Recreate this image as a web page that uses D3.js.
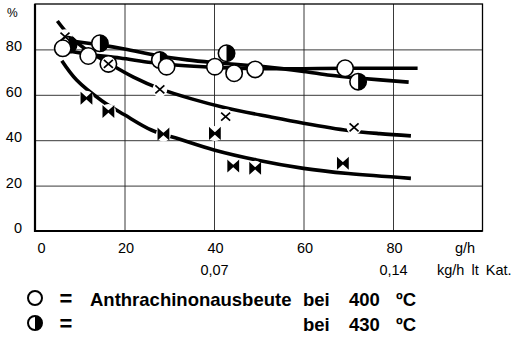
<!DOCTYPE html>
<html lang="de">
<head>
<meta charset="UTF-8">
<title>Anthrachinonausbeute</title>
<script src="https://cdn.jsdelivr.net/npm/d3@7"></script>
<style>
  body { margin: 0; background: #fff; }
  svg { display: block; font-family: "Liberation Sans", Arial, sans-serif; }
</style>
</head>
<body>
<svg></svg>
<script>
	// values (x = g/h, y = %)
	var xTicks = [0, 20, 40, 60, 80];
	var yTicks = [0, 20, 40, 60, 80];
	var kgTickPos = [40, 80];
	var kgTickLabels = ['0,07', '0,14'];

	// markers
	var open400 = [[6.2, 80.5], [11.9, 77.1], [16.4, 73.6], [29.4, 72.4], [40.2, 72.4], [44.5, 69.5], [49.2, 71.2], [69.3, 71.7]];
	var half430 = [[7.5, 82], [14.5, 82.7], [27.9, 75.3], [42.8, 78.3], [72.2, 65.8]];
	var crossPts = [[6.7, 85.6], [16.4, 73.6], [27.9, 62.4], [42.6, 50.4], [71.3, 45.7]];
	var bowPts = [[11.5, 58.5], [16.4, 52.6], [28.7, 42.7], [40.2, 43.0], [44.3, 28.6], [49.2, 27.6], [68.8, 29.8]];

	// drawn curves
	var curve400 = [[6, 79.8], [12, 77.8], [19, 76.2], [26, 74.2], [32, 73], [40, 72.1], [50, 71.5], [60, 71.5], [70, 71.7], [85.5, 71.7]];
	var curve430 = [[7, 84], [14.5, 82], [20, 80.2], [27.5, 77.2], [34, 75.4], [40, 74.2], [51, 72.4], [60, 70.3], [66, 68.6], [72, 67.4], [83.5, 65.6]];
	var curveCross = [[5, 92.5], [7.5, 86.5], [11, 80.5], [16.4, 74], [22, 67.8], [28, 62.6], [35, 58.2], [42.5, 54.3], [52.5, 50.3], [60, 47.5], [70, 44.3], [77, 42.9], [84, 41.9]];
	var curveBow = [[6, 75], [9.3, 66.5], [15, 57.3], [20, 51.2], [26, 44.5], [32.4, 40.4], [40, 35.7], [49.5, 31.3], [60, 27.6], [70, 25.3], [84, 23.2]];

	var width = 529, height = 359;
	var labelFont = '14.5px';

	var svg = d3.select('svg')
		.attr('width', width)
		.attr('height', height);

	var x = d3.scaleLinear().domain([0, 100]).range([35, 482.5]);
	var y = d3.scaleLinear().domain([0, 100]).range([231, 4]);

	// grid
	svg.append('g')
		.attr('transform', 'translate(0,' + y(0) + ')')
		.call(d3.axisBottom(x).tickValues([20, 40, 60, 80]).tickSize(-(y(0) - y(100))).tickFormat(''))
		.call(function (g) { g.select('.domain').remove(); })
		.selectAll('line').attr('stroke', '#222').attr('stroke-width', 0.9);

	svg.append('g')
		.attr('transform', 'translate(' + x(0) + ',0)')
		.call(d3.axisLeft(y).tickValues([20, 40, 60, 80]).tickSize(-(x(100) - x(0))).tickFormat(''))
		.call(function (g) { g.select('.domain').remove(); })
		.selectAll('line').attr('stroke', '#222').attr('stroke-width', 0.9);

	// frame
	svg.append('rect')
		.attr('x', x(0)).attr('y', y(100))
		.attr('width', x(100) - x(0)).attr('height', y(0) - y(100))
		.attr('fill', 'none').attr('stroke', '#000').attr('stroke-width', 1.3);
	svg.append('path')
		.attr('d', 'M' + x(0) + ',' + y(100) + 'V' + y(0) + 'H' + x(100))
		.attr('fill', 'none').attr('stroke', '#000').attr('stroke-width', 2.2);

	// tick labels
	var yAxis = svg.append('g')
		.attr('transform', 'translate(' + x(0) + ',0)')
		.call(d3.axisLeft(y).tickValues(yTicks).tickSize(0).tickPadding(13));
	yAxis.select('.domain').remove();
	yAxis.selectAll('text')
		.attr('dy', '0.1em')
		.attr('fill', '#000')
		.style('font-size', labelFont)
		.style('font-family', '"Liberation Sans", Arial, sans-serif');

	var xAxis = svg.append('g')
		.attr('transform', 'translate(0,' + y(0) + ')')
		.call(d3.axisBottom(x).tickValues(xTicks).tickSize(0).tickPadding(11.5));
	xAxis.select('.domain').remove();
	xAxis.selectAll('text')
		.attr('fill', '#000')
		.attr('dx', function (d) { return d === 0 ? 6 : 1; })
		.style('font-size', labelFont)
		.style('font-family', '"Liberation Sans", Arial, sans-serif');

	var kgAxis = svg.append('g')
		.attr('transform', 'translate(0,' + y(0) + ')')
		.call(d3.axisBottom(x).tickValues(kgTickPos).tickSize(0).tickPadding(33.5)
			.tickFormat(function (d, i) { return kgTickLabels[i]; }));
	kgAxis.select('.domain').remove();
	kgAxis.selectAll('text')
		.attr('fill', '#000')
		.style('font-size', labelFont)
		.style('font-family', '"Liberation Sans", Arial, sans-serif');

	svg.append('text').attr('x', 7).attr('y', 17).text('%')
		.style('font-size', '12px');
	svg.append('text').attr('x', 455).attr('y', 253).text('g/h')
		.style('font-size', labelFont);
	svg.append('text').attr('x', 437).attr('y', 275).text('kg/h lt Kat.')
		.style('font-size', labelFont).style('word-spacing', '3px');

	// curves
	var line = d3.line()
		.x(function (d) { return x(d[0]); })
		.y(function (d) { return y(d[1]); })
		.curve(d3.curveCatmullRom);

	[curve400, curve430, curveCross, curveBow].forEach(function (c) {
		svg.append('path')
			.datum(c)
			.attr('fill', 'none')
			.attr('stroke', '#000')
			.attr('stroke-width', 3.6)
			.attr('stroke-linecap', 'butt')
			.attr('d', line);
	});

	// white gaps where the curves are broken around the small markers
	svg.selectAll('.halo')
		.data(crossPts.concat(bowPts))
		.enter()
		.append('circle')
		.attr('class', 'halo')
		.attr('cx', function (d) { return x(d[0]); })
		.attr('cy', function (d) { return y(d[1]); })
		.attr('r', 7.5)
		.attr('fill', '#fff');

	// half filled circles (430 C)
	var r = 8.2;
	var halfArc = 'M0,' + (-r) + 'A' + r + ',' + r + ' 0 0 1 0,' + r + 'Z';
	var halves = svg.selectAll('.half')
		.data(half430)
		.enter()
		.append('g')
		.attr('class', 'half')
		.attr('transform', function (d) { return 'translate(' + x(d[0]) + ',' + y(d[1]) + ')'; });
	halves.append('circle').attr('r', r).attr('fill', '#fff').attr('stroke', '#000').attr('stroke-width', 1.6);
	halves.append('path').attr('d', halfArc).attr('fill', '#000');

	// open circles (400 C)
	svg.selectAll('.open')
		.data(open400)
		.enter()
		.append('circle')
		.attr('class', 'open')
		.attr('cx', function (d) { return x(d[0]); })
		.attr('cy', function (d) { return y(d[1]); })
		.attr('r', r)
		.attr('fill', '#fff')
		.attr('stroke', '#000')
		.attr('stroke-width', 1.6);

	// crosses
	svg.selectAll('.cross')
		.data(crossPts)
		.enter()
		.append('path')
		.attr('class', 'cross')
		.attr('transform', function (d) { return 'translate(' + x(d[0]) + ',' + y(d[1]) + ')'; })
		.attr('d', 'M-4.5,-4L4.5,4M-4.5,4L4.5,-4')
		.attr('stroke', '#000')
		.attr('stroke-width', 1.7);

	// bow ties
	svg.selectAll('.bow')
		.data(bowPts)
		.enter()
		.append('path')
		.attr('class', 'bow')
		.attr('transform', function (d) { return 'translate(' + x(d[0]) + ',' + y(d[1]) + ')'; })
		.attr('d', 'M-5,-4.5L0,0L-5,4.5ZM5,-4.5L0,0L5,4.5Z')
		.attr('fill', '#000')
		.attr('stroke', '#000')
		.attr('stroke-width', 1.8)
		.attr('stroke-linejoin', 'miter');

	// legend
	var lr = 7;
	svg.append('circle').attr('cx', 35).attr('cy', 298).attr('r', lr)
		.attr('fill', '#fff').attr('stroke', '#000').attr('stroke-width', 2);
	var lh = svg.append('g').attr('transform', 'translate(35,323)');
	lh.append('circle').attr('r', lr).attr('fill', '#fff').attr('stroke', '#000').attr('stroke-width', 2);
	lh.append('path').attr('d', 'M0,' + (-lr) + 'A' + lr + ',' + lr + ' 0 0 1 0,' + lr + 'Z').attr('fill', '#000');

	var leg = svg.append('g').style('font-size', '18.5px').style('font-weight', 'bold');
	leg.append('text').attr('x', 66).attr('y', 306).attr('text-anchor', 'middle').style('font-size', '22px').text('=');
	leg.append('text').attr('x', 66).attr('y', 331).attr('text-anchor', 'middle').style('font-size', '22px').text('=');
	leg.append('text').attr('x', 90).attr('y', 306).text('Anthrachinonausbeute');
	leg.append('text').attr('x', 303).attr('y', 306).text('bei');
	leg.append('text').attr('x', 349).attr('y', 306).text('400');
	leg.append('text').attr('x', 396).attr('y', 306).text('ºC');
	leg.append('text').attr('x', 303).attr('y', 331).text('bei');
	leg.append('text').attr('x', 349).attr('y', 331).text('430');
	leg.append('text').attr('x', 396).attr('y', 331).text('ºC');
</script>
</body>
</html>
